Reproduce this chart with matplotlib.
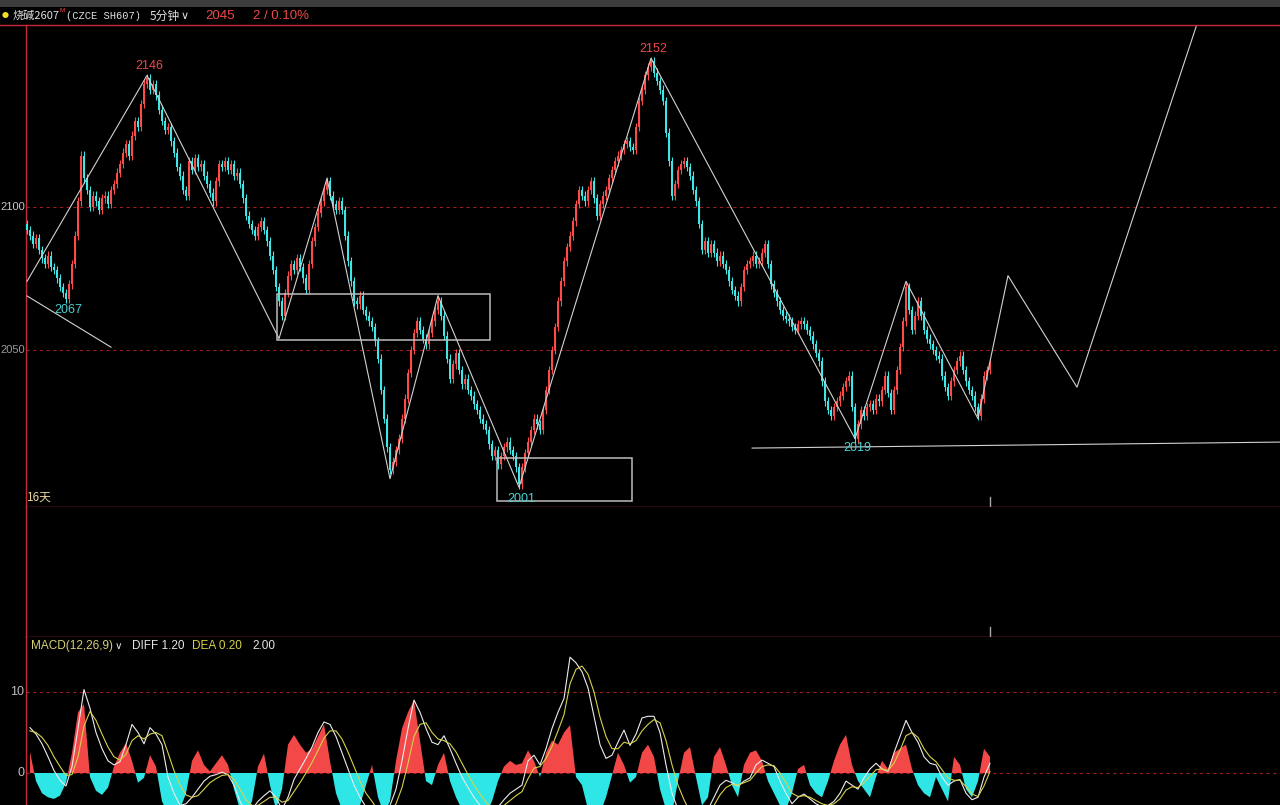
import numpy as np
import matplotlib
matplotlib.use("Agg")
import matplotlib.pyplot as plt
from matplotlib.patches import Rectangle
from matplotlib.lines import Line2D

plt.rcParams['font.family'] = ['Noto Sans CJK SC', 'DejaVu Sans']

# ---------- data (5 min bars) ----------
first_open = 2094
closes = [
    2092, 2090, 2087, 2089, 2085, 2082, 2080, 2083, 2079, 2078,
    2075, 2072, 2070, 2068, 2073, 2080, 2090, 2102, 2118, 2110,
    2106, 2100, 2104, 2102, 2099, 2103, 2104, 2101, 2106, 2108,
    2112, 2115, 2119, 2122, 2118, 2125, 2130, 2128, 2136, 2143,
    2145, 2141, 2143, 2139, 2134, 2130, 2127, 2128, 2123, 2119,
    2114, 2111, 2106, 2104, 2116, 2113, 2117, 2114, 2115, 2111,
    2108, 2105, 2102, 2109, 2115, 2114, 2116, 2113, 2115, 2111,
    2112, 2108, 2103, 2097, 2094, 2092, 2090, 2093, 2095, 2092,
    2088, 2083, 2078, 2072, 2067, 2062, 2070, 2076, 2080, 2078,
    2082, 2079, 2075, 2071, 2080, 2088, 2093, 2098, 2102, 2106,
    2109, 2104, 2101, 2099, 2102, 2099, 2090, 2081, 2074, 2067,
    2066, 2069, 2064, 2062, 2060, 2058, 2053, 2047, 2036, 2026,
    2016, 2008, 2011, 2015, 2019, 2026, 2033, 2042, 2050, 2056,
    2060, 2057, 2054, 2052, 2056, 2060, 2064, 2067, 2062, 2055,
    2047, 2040, 2045, 2049, 2043, 2038, 2040, 2036, 2034, 2031,
    2029, 2026, 2024, 2022, 2017, 2013, 2015, 2010, 2013, 2016,
    2018, 2015, 2013, 2009, 2003, 2009, 2014, 2018, 2022, 2026,
    2024, 2022, 2029, 2036, 2043, 2050, 2058, 2067, 2074, 2081,
    2086, 2090, 2095, 2101, 2106, 2104, 2102, 2106, 2109, 2103,
    2097, 2101, 2104, 2106, 2110, 2113, 2116, 2118, 2120, 2122,
    2123, 2121, 2120, 2128, 2137, 2141, 2146, 2149, 2151, 2147,
    2144, 2141, 2137, 2126, 2116, 2104, 2108, 2113, 2115, 2116,
    2114, 2111, 2106, 2102, 2094, 2085, 2088, 2084, 2087, 2084,
    2081, 2083, 2080, 2078, 2074, 2071, 2069, 2067, 2072, 2078,
    2080, 2081, 2083, 2080, 2081, 2084, 2087, 2080, 2073, 2070,
    2067, 2064, 2062, 2061, 2060, 2058, 2057, 2059, 2060, 2059,
    2057, 2055, 2052, 2049, 2046, 2039, 2032, 2029, 2027, 2030,
    2032, 2034, 2037, 2039, 2041, 2030, 2019, 2024, 2029, 2027,
    2030, 2031, 2029, 2033, 2032, 2036, 2041, 2035, 2029, 2036,
    2043, 2051, 2060, 2072, 2064, 2057, 2062, 2067, 2062, 2057,
    2054, 2052, 2050, 2048, 2047, 2041, 2037, 2034, 2039, 2043,
    2046, 2048, 2043, 2039, 2036, 2034, 2030, 2027, 2033, 2041,
    2043, 2045,
]
wick = 1.5

# pivot labels
pivot_idx = [40, 208, 13, 164, 276]
pivot_price = [2146, 2152, 2067, 2001, 2019]
pivot_text = ["2146", "2152", "2067", "2001", "2019"]
pivot_is_high = [True, True, False, False, False]

# hand drawn zigzag (bar index, price)
zig_idx = [0, 40, 84, 100, 121, 137, 164, 208, 276, 293, 317, 327, 350, 390]
zig_price = [2074, 2146, 2054, 2110, 2005, 2069, 2002, 2152, 2019, 2074, 2026, 2076, 2037, 2164]

# boxes (i0, i1, p0, p1)
boxes = [(83.3, 154.3, 2053.5, 2069.6), (156.7, 201.7, 1997.2, 2012.2)]

# extra straight lines
seg_left = ([0, 28], [2068.9, 2051.0])
seg_support = ([241.7, 417.7], [2015.7, 2017.8])

# MACD(12,26,9), sampled every second bar
diff = [
    5.6, 4.8, 3.6, 2.0, 0.3, -0.9, -1.6, 0.8, 5.5, 10.3,
    8.0, 5.0, 3.0, 1.5, 1.0, 1.4, 3.5, 6.0, 5.0, 3.6,
    5.6, 4.8, 3.5, -0.5, -2.5, -4.0, -3.8, -3.0, -2.0, -1.0,
    -0.4, -0.2, 0.1, -0.2, -1.5, -3.5, -4.8, -4.5, -3.5, -2.8,
    -2.2, -3.0, -4.5, -3.0, -0.8, 0.5, 1.8, 3.2, 5.0, 6.3,
    6.0, 4.5, 2.5, 0.5, -1.5, -3.0, -4.2, -5.0, -6.0, -5.5,
    -4.0, -2.0, 1.5, 5.5, 9.0, 7.5, 5.5, 3.8, 3.5, 4.6,
    3.0, 1.2, -0.5, -1.8, -3.0, -4.0, -4.8, -5.0, -4.2, -3.3,
    -2.5, -2.0, -1.5, 1.5, 2.2, 1.0, 3.0, 5.5, 7.5, 9.2,
    14.3, 13.6, 12.5, 10.5, 7.0, 3.5, 1.8, 2.2, 3.8, 5.3,
    3.4, 4.8, 6.8, 7.0, 7.0, 5.0, 1.0, -2.5, -4.5, -5.5,
    -6.5, -6.0, -5.5, -4.5, -3.0, -1.5, -0.9, -1.2, -1.6, -1.0,
    -0.6, 1.0, 1.6, 1.2, 0.8, -1.0, -2.5, -3.8, -3.0, -2.6,
    -3.2, -3.8, -4.2, -4.0, -3.5, -2.5, -1.0, -1.5, -2.0, -0.6,
    0.5, 1.2, 0.5, 0.2, 2.5, 4.5, 6.5, 5.0, 3.8, 2.0,
    1.2, 1.0, -0.5, -1.5, -1.0, -0.8, -2.5, -3.3, -3.0, -0.5,
    1.2,
]
dea = [
    5.2, 5.0, 4.4, 3.4, 2.0, 0.8, -0.3, -0.2, 2.0, 5.8,
    7.6, 6.5, 4.8, 3.2, 2.0, 1.6, 2.3, 4.0, 4.6, 4.2,
    4.8, 5.0, 4.6, 2.5, 0.3, -1.5, -2.7, -3.0, -2.8, -2.0,
    -1.2, -0.7, -0.3, -0.2, -0.8, -2.0, -3.3, -4.0, -4.0, -3.5,
    -3.0, -3.0, -3.6, -3.4, -2.3, -1.2, 0.0, 1.3, 2.8, 4.3,
    5.2, 5.2, 4.2, 2.6, 0.8, -1.0, -2.5, -3.5, -4.6, -5.0,
    -4.8, -3.8, -1.8, 1.2, 4.5, 6.0, 6.2, 5.0, 4.2, 4.0,
    3.6, 2.6, 1.2, -0.2, -1.5, -2.6, -3.6, -4.3, -4.4, -4.0,
    -3.4, -2.8, -2.3, -0.7, 0.6, 0.8, 1.8, 3.3, 5.2, 7.2,
    11.0, 12.8, 13.2, 12.2, 10.0, 6.9, 4.5, 3.0, 3.0, 3.8,
    3.6, 4.0, 5.2, 6.0, 6.6, 6.2, 4.0, 1.0, -1.5, -3.3,
    -4.8, -5.5, -5.5, -5.0, -4.0, -2.7, -1.8, -1.4, -1.5, -1.2,
    -0.9, 0.0, 0.8, 1.0, 0.9, 0.0, -1.2, -2.5, -2.9, -2.8,
    -3.0, -3.4, -3.8, -4.0, -3.8, -3.2, -2.1, -1.7, -1.8, -1.2,
    -0.4, 0.4, 0.5, 0.3, 1.2, 2.8, 4.6, 5.0, 4.4, 3.0,
    2.0, 1.4, 0.4, -0.6, -0.9, -0.9, -1.7, -2.6, -2.9, -1.6,
    0.2,
]
macd_hist = [
    2.6, -1.0, -2.5, -3.0, -3.2, -2.8, -1.2, 2.5, 7.5, 8.5,
    -0.5, -2.2, -2.7, -1.8, 0.8, 2.5, 3.7, 1.5, -1.2, -0.6,
    2.2, 0.8, -3.5, -5.0, -5.0, -4.5, -2.5, 1.5, 2.8, 1.0,
    0.2, 1.2, 2.2, 1.0, -2.0, -4.5, -5.0, -3.5, 0.8, 2.4,
    -1.5, -4.5, -2.0, 3.5, 4.7, 3.5, 2.5, 3.0, 4.5, 6.0,
    1.5, -2.5, -4.5, -5.0, -5.0, -4.0, -1.5, 1.0, -3.0, -5.0,
    -3.5, 1.5, 5.5, 7.5, 9.0, 4.0, -1.0, -1.5, 1.0, 2.5,
    -1.0, -3.0, -4.5, -5.0, -4.0, -4.5, -5.0, -3.5, -1.0, 0.8,
    1.5, 1.0, 1.2, 2.8, 1.5, -0.5, 2.5, 4.0, 3.5, 5.0,
    5.9, -0.5, -1.5, -4.5, -5.0, -5.0, -3.0, -0.3, 2.5, 1.0,
    -1.2, -0.5, 2.5, 3.5, 2.0, -2.0, -4.5, -5.0, -1.0, 2.5,
    3.2, -0.5, -4.0, -3.0, 2.0, 3.2, 1.0, -1.5, -3.0, 1.0,
    2.5, 2.8, 1.5, -1.0, -2.5, -4.0, -4.5, -2.5, 0.5, 1.0,
    -1.5, -2.5, -3.0, -1.0, 1.5, 3.5, 4.7, 1.0, -1.0, -2.0,
    -3.0, -0.5, 1.5, 0.5, 2.5, 3.0, 3.5, 0.5, -1.5, -2.5,
    -3.0, -0.5, -2.0, -3.5, 2.0, 1.0, -2.0, -3.0, -1.0, 3.0,
    2.0,
]

# ---------- colours ----------
BG = "#000000"
RED_LINE = "#c8283c"
GRID = "#9a1c1c"
UP = "#ff4a4a"
DOWN = "#3ee6e6"
DRAW = "#d2d2d2"
W, H = 1280, 805
LAT = ["Liberation Sans", "DejaVu Sans"]

closes = np.array(closes, float)
opens = np.concatenate([[first_open], closes[:-1]])
idx = np.arange(len(closes))
top = np.maximum(opens, closes)
bot = np.minimum(opens, closes)
highs = top + wick
lows = bot - wick
up = closes >= opens

fig = plt.figure(figsize=(W / 100, H / 100), dpi=100, facecolor=BG)


def fx(px):
    return px / W


def fy(py):
    return 1 - py / H


ax = fig.add_axes([fx(26), fy(507), fx(1280 - 26), (507 - 25) / H])
ax_mid = fig.add_axes([fx(26), fy(637), fx(1280 - 26), (637 - 507) / H])
ax_macd = fig.add_axes([fx(26), 0, fx(1280 - 26), (805 - 637) / H])

xlim = (-1 / 3, (1280 - 27) / 3)
for a in (ax, ax_mid, ax_macd):
    a.set_facecolor(BG)
    a.set_xlim(*xlim)
    a.set_xticks([])
    a.set_yticks([])
    for s in a.spines.values():
        s.set_visible(False)
    a.spines["left"].set_visible(True)
    a.spines["left"].set_color(RED_LINE)
    a.spines["left"].set_linewidth(1.0)
for a in (ax, ax_mid):
    a.spines["bottom"].set_visible(True)
    a.spines["bottom"].set_color(RED_LINE)
    a.spines["bottom"].set_linewidth(1.0)

# ---------- main price panel ----------
ax.set_ylim(1995.1, 2163.64)
for lvl in (2050, 2100):
    ax.axhline(lvl, color=GRID, lw=0.8, ls=(0, (3, 3)), zorder=1)
ax.text(-0.0004, 2100, "2100", transform=ax.get_yaxis_transform(), ha="right", va="center",
        color="#c8c8c8", fontsize=8, family=LAT, clip_on=False)
ax.text(-0.0004, 2050, "2050", transform=ax.get_yaxis_transform(), ha="right", va="center",
        color="#9a9a9a", fontsize=8, family=LAT, clip_on=False)

colors = np.where(up, UP, DOWN)
ax.vlines(idx, lows, highs, colors=colors, lw=0.8, zorder=2)
ax.bar(idx, np.maximum(top - bot, 0.5), bottom=bot, width=0.75, color=colors, lw=0, zorder=3)

ax.plot(zig_idx, zig_price, color=DRAW, lw=0.8, zorder=4, clip_on=True)
ax.plot(*seg_left, color=DRAW, lw=0.8, zorder=4)
ax.plot(*seg_support, color=DRAW, lw=0.8, zorder=4)
for i0, i1, p0, p1 in boxes:
    ax.add_patch(Rectangle((i0, p0), i1 - i0, p1 - p0, fill=False, ec="#bdbdbd", lw=1.1, zorder=4))

for i, p, t, hi in zip(pivot_idx, pivot_price, pivot_text, pivot_is_high):
    ax.annotate(t, (i, p), xytext=(2, 9 if hi else -9), textcoords="offset pixels",
                ha="center", va="center", fontsize=9, color="#f04848" if hi else "#4ad2d2",
                family=LAT, zorder=5)

ax.text(0.001, 0.006, "16天", transform=ax.transAxes, ha="left", va="bottom",
        fontsize=8.5, color="#e6d49a")
ax.axvline(len(closes) - 1, ymin=0, ymax=0.021, color="#a8a8a8", lw=1.0)

# ---------- middle (empty) panel ----------
ax_mid.set_ylim(0, 1)
ax_mid.axvline(len(closes) - 1, ymin=0, ymax=0.077, color="#a8a8a8", lw=1.0)

# ---------- MACD panel ----------
macd_x = np.arange(1, len(closes) + 1, 2)[:len(diff)]
hist = np.array(macd_hist)
ax_macd.set_ylim(-3.95, 16.79)
ax_macd.axhline(10, color=GRID, lw=0.8, ls=(0, (3, 3)), zorder=1)
ax_macd.axhline(0, color=GRID, lw=0.8, ls=(0, (3, 3)), zorder=1)
ax_macd.fill_between(macd_x, 0, hist, where=hist >= 0, interpolate=True, color="#f24848", lw=0, zorder=2)
ax_macd.fill_between(macd_x, 0, hist, where=hist <= 0, interpolate=True, color="#2ee6e6", lw=0, zorder=2)
ax_macd.plot(macd_x, diff, color="#ececec", lw=0.8, zorder=3)
ax_macd.plot(macd_x, dea, color="#d6d24a", lw=0.8, zorder=3)
for v in (10, 0):
    ax_macd.text(-0.0015, v, str(v), transform=ax_macd.get_yaxis_transform(), ha="right", va="center",
                 color="#bdbdbd", fontsize=9, family=LAT, clip_on=False)

# ---------- header / chrome ----------
fig.add_artist(Rectangle((0, fy(7)), 1, 7 / H, transform=fig.transFigure, color="#3c3c3c", lw=0))
fig.add_artist(Line2D([0, 1], [fy(25), fy(25)], transform=fig.transFigure, color=RED_LINE, lw=1.0))

hy = fy(16)
fig.text(fx(2), hy, "●", color="#f0e020", fontsize=5, va="center", ha="left")
fig.text(fx(13), hy, "烧碱2607", color="#e0e0e0", fontsize=8, va="center", ha="left")
fig.text(fx(59), fy(11), "M", color="#ff4040", fontsize=4.5, va="center", ha="left", family=LAT)
fig.text(fx(66), hy, "(CZCE SH607)", color="#e0e0e0", fontsize=7.5, va="center", ha="left",
         family=["Liberation Mono", "DejaVu Sans Mono"])
fig.text(fx(150), hy, "5分钟", color="#e0e0e0", fontsize=8.5, va="center", ha="left")
fig.text(fx(181), hy, "∨", color="#e0e0e0", fontsize=8, va="center", ha="left",
         family=["DejaVu Sans"])
fig.text(fx(205), hy, "2045", color="#f04848", fontsize=9.5, va="center", ha="left", family=LAT)
fig.text(fx(253), hy, "2 / 0.10%", color="#f04848", fontsize=9.5, va="center", ha="left", family=LAT)

my = fy(646)
fig.text(fx(31), my, "MACD(12,26,9)", color="#d6d27a", fontsize=8.5, va="center", ha="left", family=LAT)
fig.text(fx(115), my, "∨", color="#e0e0e0", fontsize=7.5, va="center", ha="left", family=["DejaVu Sans"])
fig.text(fx(132), my, "DIFF 1.20", color="#e6e6e6", fontsize=8.5, va="center", ha="left", family=LAT)
fig.text(fx(192), my, "DEA 0.20", color="#d6d24a", fontsize=8.5, va="center", ha="left", family=LAT)
fig.text(fx(252), my, "2.00", color="#e6e6e6", fontsize=8.5, va="center", ha="left", family=LAT)

fig.savefig("out.png", dpi=100, facecolor=BG)
